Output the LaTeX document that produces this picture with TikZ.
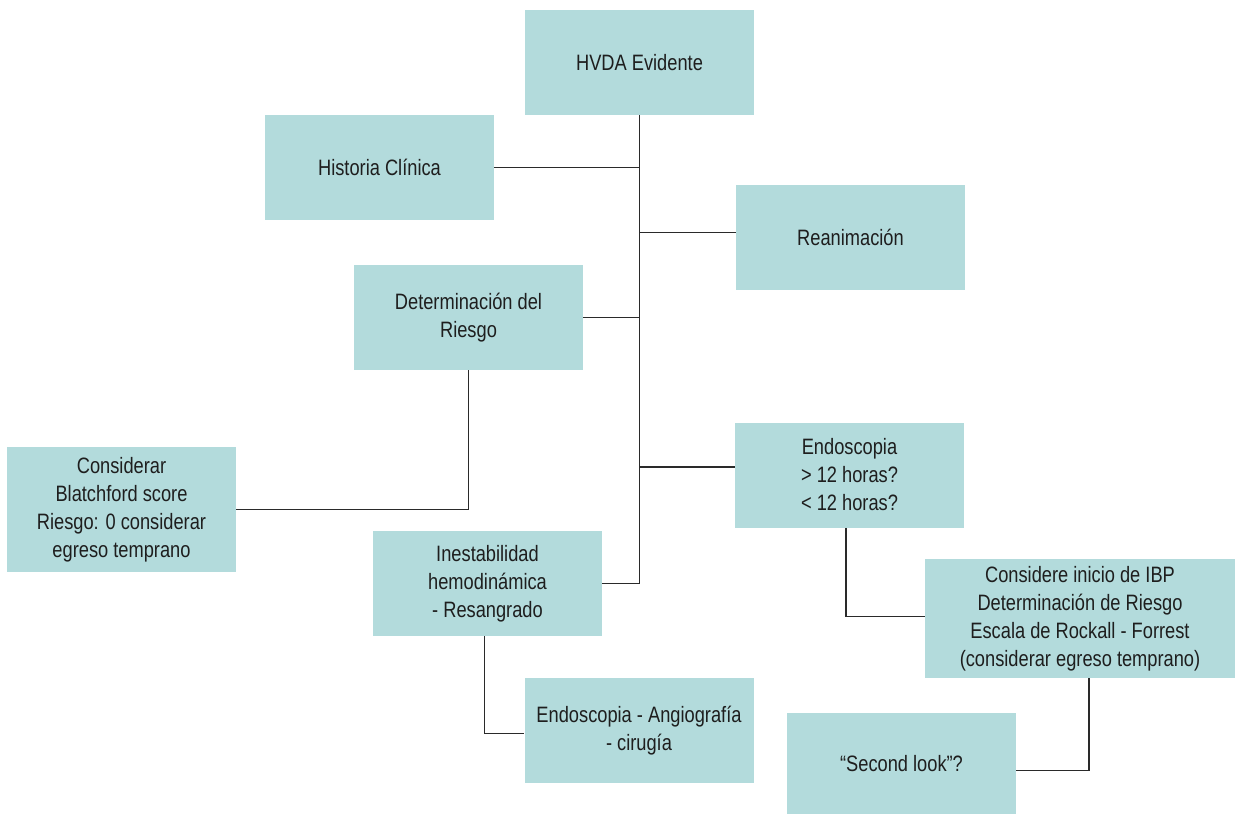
\documentclass[tikz,border=0pt]{standalone}
\usepackage{fontspec}
\setmainfont{Liberation Sans}[FakeStretch=0.82]
\definecolor{boxfill}{HTML}{B3DBDC}
\definecolor{txt}{HTML}{1E1E1E}
\definecolor{wire}{HTML}{2A2A2A}
\begin{document}
\begin{tikzpicture}[x=0.75pt,y=-0.75pt,
  box/.style={fill=boxfill, draw=none, inner sep=0pt, align=center,
    text=txt, font=\fontsize{16.7}{21}\selectfont,
    minimum width=171.75pt, minimum height=78.75pt},
  link/.style={draw=wire, line width=0.9pt}]
\useasboundingbox (0,0) rectangle (1235,814);

% boxes
\node[box] (hvda)   at (639.5,62.5)  {HVDA Evidente};
\node[box] (hist)   at (379.5,167.5) {Historia Clínica};
\node[box] (rean)   at (850.5,237.5) {Reanimación};
\node[box] (riesgo) at (468.5,317.5) {Determinación del\\Riesgo};
\node[box, minimum height=93.75pt] (blatch) at (121.5,509.5)
  {Considerar\\Blatchford score\\Riesgo: 0 considerar\\egreso temprano};
\node[box] (endo)   at (849.5,475)   {Endoscopia\\> 12 horas?\\< 12 horas?};
\node[box] (inest)  at (487.5,583.5) {Inestabilidad\\hemodinámica\\- Resangrado};
\node[box, minimum width=232.5pt, minimum height=89.25pt] (ibp) at (1080,618.5)
  {Considere inicio de IBP\\Determinación de Riesgo\\Escala de Rockall - Forrest\\(considerar egreso temprano)};
\node[box] (angio)  at (639,730.5)   {Endoscopia - Angiografía\\- cirugía};
\node[box, minimum height=75.75pt] (second) at (901.5,763.5) {“Second look”?};

% main trunk and branches
\draw[link] (hvda.south) -- (hvda.south |- inest.east) -- (inest.east);
\draw[link] (hist.east) -- (hist.east -| hvda.south);
\draw[link] ([yshift=4pt]rean.west) -- ([yshift=4pt]rean.west -| hvda.south);
\draw[link] (riesgo.east) -- (riesgo.east -| hvda.south);
\draw[link] ([yshift=6pt]endo.west) -- ([yshift=6pt]endo.west -| hvda.south);

% secondary elbows
\draw[link] (riesgo.south) |- (blatch.east);
\draw[link] ([xshift=-2.6pt]endo.south) |- ([yshift=1.3pt]ibp.west);
\draw[link] ([xshift=-2pt]inest.south) |- ([yshift=-2pt]angio.west);
\draw[link] ([xshift=6.75pt]ibp.south) |- ([yshift=-5pt]second.east);
\end{tikzpicture}
\end{document}
